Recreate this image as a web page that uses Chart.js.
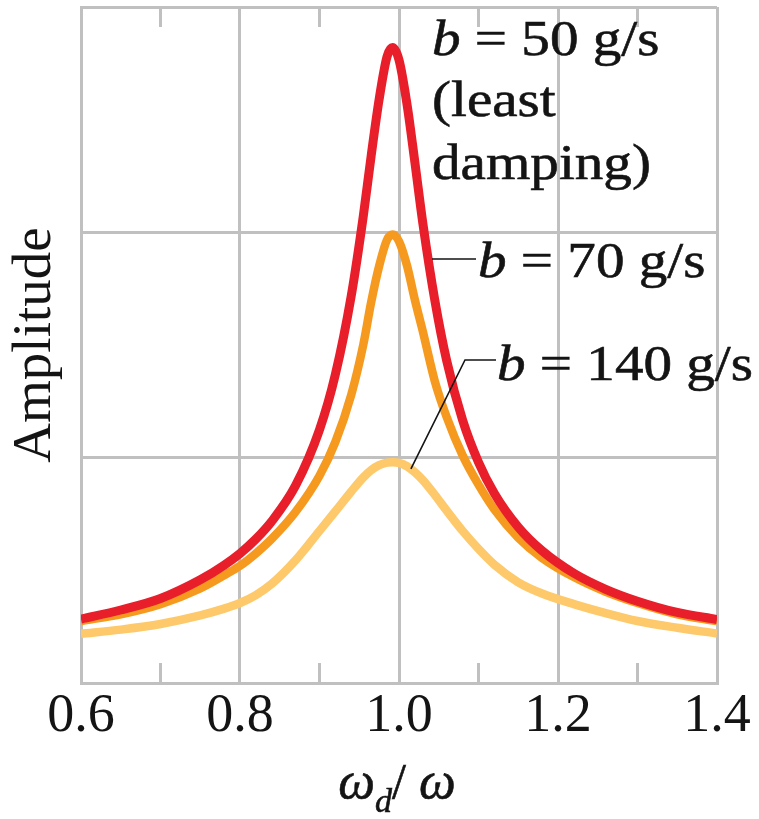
<!DOCTYPE html>
<html>
<head>
<meta charset="utf-8">
<script src="https://cdn.jsdelivr.net/npm/chart.js@4.4.1/dist/chart.umd.min.js"></script>
<style>
  html, body { margin: 0; padding: 0; background: #fff; }
</style>
</head>
<body>
<canvas id="resonance" width="759" height="819"></canvas>
<script>
// driving frequency / natural frequency (shared x values)
const omegaRatio = [0.60, 0.65, 0.70, 0.75, 0.78, 0.80, 0.82, 0.84, 0.87, 0.90, 0.92, 0.94, 0.955, 0.965, 0.975, 0.985, 0.992,
                    1.000, 1.010, 1.020, 1.030, 1.045, 1.060, 1.080, 1.10, 1.12, 1.15, 1.18, 1.22, 1.26, 1.30, 1.35, 1.40];
// amplitude (arbitrary units)
const amp50  = [0.284, 0.324, 0.375, 0.458, 0.523, 0.575, 0.639, 0.718, 0.877, 1.124, 1.37, 1.72, 2.07, 2.34, 2.59, 2.78, 2.82,
                2.765, 2.57, 2.31, 2.04, 1.70, 1.43, 1.167, 0.98, 0.841, 0.692, 0.587, 0.487, 0.416, 0.363, 0.313, 0.282];
const amp70  = [0.275, 0.305, 0.35, 0.42, 0.478, 0.52, 0.575, 0.64, 0.76, 0.92, 1.07, 1.28, 1.50, 1.69, 1.85, 1.967, 1.99,
                1.96, 1.853, 1.70, 1.56, 1.34, 1.18, 1.01, 0.88, 0.77, 0.645, 0.555, 0.47, 0.405, 0.355, 0.305, 0.275];
const amp140 = [0.218, 0.237, 0.262, 0.30, 0.33, 0.355, 0.39, 0.44, 0.545, 0.675, 0.762, 0.85, 0.912, 0.945, 0.967, 0.978, 0.98,
                0.977, 0.962, 0.935, 0.90, 0.835, 0.765, 0.675, 0.595, 0.525, 0.447, 0.397, 0.35, 0.31, 0.275, 0.245, 0.22];

const seriesNames = ['b = 50 g/s', 'b = 70 g/s', 'b = 140 g/s'];
const xTickLabels = ['0.6', '0.8', '1.0', '1.2', '1.4'];
const minorTicks = [0.7, 0.9, 1.1, 1.3];

const GRID = '#c0c0c0';
const INK = '#141414';
const SERIF = '"Liberation Serif", "Times New Roman", serif';

function points(ys) {
  return omegaRatio.map((x, i) => ({ x: x, y: ys[i] }));
}

// draws text made of italic / upright pieces, a bit widened like the book font
function label(ctx, x, y, parts, size) {
  ctx.save();
  ctx.translate(x, y);
  ctx.scale(1.12, 1);
  let cx = 0;
  parts.forEach(p => {
    ctx.font = (p.italic ? 'italic ' : '') + size + 'px ' + SERIF;
    ctx.fillText(p.text, cx, 0);
    ctx.strokeText(p.text, cx, 0);
    cx += ctx.measureText(p.text).width;
  });
  ctx.restore();
}

function nameParts(name) {
  return [{ text: name.slice(0, 1), italic: true }, { text: name.slice(1) }];
}

const extras = {
  id: 'extras',
  afterDraw(chart) {
    const ctx = chart.ctx;
    const { top, bottom, left, right } = chart.chartArea;
    const xs = chart.scales.x, ys = chart.scales.y;
    ctx.save();

    // short minor ticks on the top and bottom edges
    ctx.strokeStyle = GRID;
    ctx.lineWidth = 3;
    minorTicks.forEach(v => {
      const px = xs.getPixelForValue(v);
      ctx.beginPath();
      ctx.moveTo(px, bottom); ctx.lineTo(px, bottom - 20);
      ctx.moveTo(px, top); ctx.lineTo(px, top + 20);
      ctx.stroke();
    });

    // leader lines
    ctx.strokeStyle = INK;
    ctx.lineWidth = 1.6;
    ctx.beginPath();
    ctx.moveTo(432, 259); ctx.lineTo(476, 259);
    ctx.moveTo(xs.getPixelForValue(1.015), ys.getPixelForValue(0.95));
    ctx.lineTo(465, 360); ctx.lineTo(496, 360);
    ctx.stroke();

    // curve labels
    ctx.fillStyle = INK;
    ctx.lineWidth = 0.6;
    ctx.textBaseline = 'alphabetic';
    ctx.textAlign = 'left';
    label(ctx, 432, 55, nameParts(seriesNames[0]), 51);
    label(ctx, 432, 116, [{ text: '(least' }], 51);
    label(ctx, 432, 179, [{ text: 'damping)' }], 51);
    label(ctx, 478, 277, nameParts(seriesNames[1]), 51);
    label(ctx, 497, 380, nameParts(seriesNames[2]), 51);

    // x axis title  ω_d / ω
    const base = 798;
    const pieces = [
      { text: 'ω', font: 'italic 52px ' + SERIF, dy: 0 },
      { text: 'd', font: 'italic 34px ' + SERIF, dy: 14 },
      { text: '/', font: '50px ' + SERIF, dy: 0 },
      { text: ' ω', font: 'italic 52px ' + SERIF, dy: 0 }
    ];
    let total = 0;
    pieces.forEach(p => { ctx.font = p.font; p.w = ctx.measureText(p.text).width; total += p.w; });
    let cx = (left + right) / 2 - total / 2 - 2;
    pieces.forEach(p => {
      ctx.font = p.font;
      ctx.fillText(p.text, cx, base + p.dy);
      ctx.strokeText(p.text, cx, base + p.dy);
      cx += p.w;
    });
    ctx.restore();
  }
};

const ctx = document.getElementById('resonance');

new Chart(ctx, {
  type: 'line',
  data: {
    datasets: [
      { label: seriesNames[0], data: points(amp50),  borderColor: '#e81e2a', borderWidth: 9 },
      { label: seriesNames[1], data: points(amp70),  borderColor: '#f59a1e', borderWidth: 8.5 },
      { label: seriesNames[2], data: points(amp140), borderColor: '#fdc96a', borderWidth: 8.5 }
    ]
  },
  options: {
    responsive: false,
    animation: false,
    layout: { padding: { top: 7, right: 42, left: 0, bottom: 0 } },
    elements: {
      point: { radius: 0 },
      line: { cubicInterpolationMode: 'monotone', fill: false, borderCapStyle: 'butt' }
    },
    scales: {
      x: {
        type: 'linear',
        min: 0.6,
        max: 1.4,
        afterFit: s => { s.height = 136; },
        grid: {
          lineWidth: 3,
          drawTicks: false,
          color: c => (!c.tick || xTickLabels.includes(c.tick.value.toFixed(1))) ? GRID : 'rgba(0,0,0,0)'
        },
        border: { display: true, color: GRID, width: 3 },
        ticks: {
          stepSize: 0.1,
          autoSkip: false,
          maxRotation: 0,
          padding: 1,
          color: INK,
          font: { family: SERIF, size: 54 },
          callback: v => {
            const s = Number(v).toFixed(1);
            return xTickLabels.includes(s) ? s : '';
          }
        }
      },
      y: {
        min: 0,
        max: 3,
        afterFit: s => { s.width = 81; },
        grid: { lineWidth: 3, color: GRID, drawTicks: false },
        border: { display: true, color: GRID, width: 3 },
        ticks: { stepSize: 1, display: false },
        title: {
          display: true,
          text: 'Amplitude',
          color: INK,
          padding: { top: 8, bottom: 0 },
          font: { family: SERIF, size: 55, lineHeight: 1 }
        }
      }
    },
    plugins: {
      legend: { display: false },
      tooltip: { enabled: false }
    }
  },
  plugins: [extras]
});
</script>
</body>
</html>
